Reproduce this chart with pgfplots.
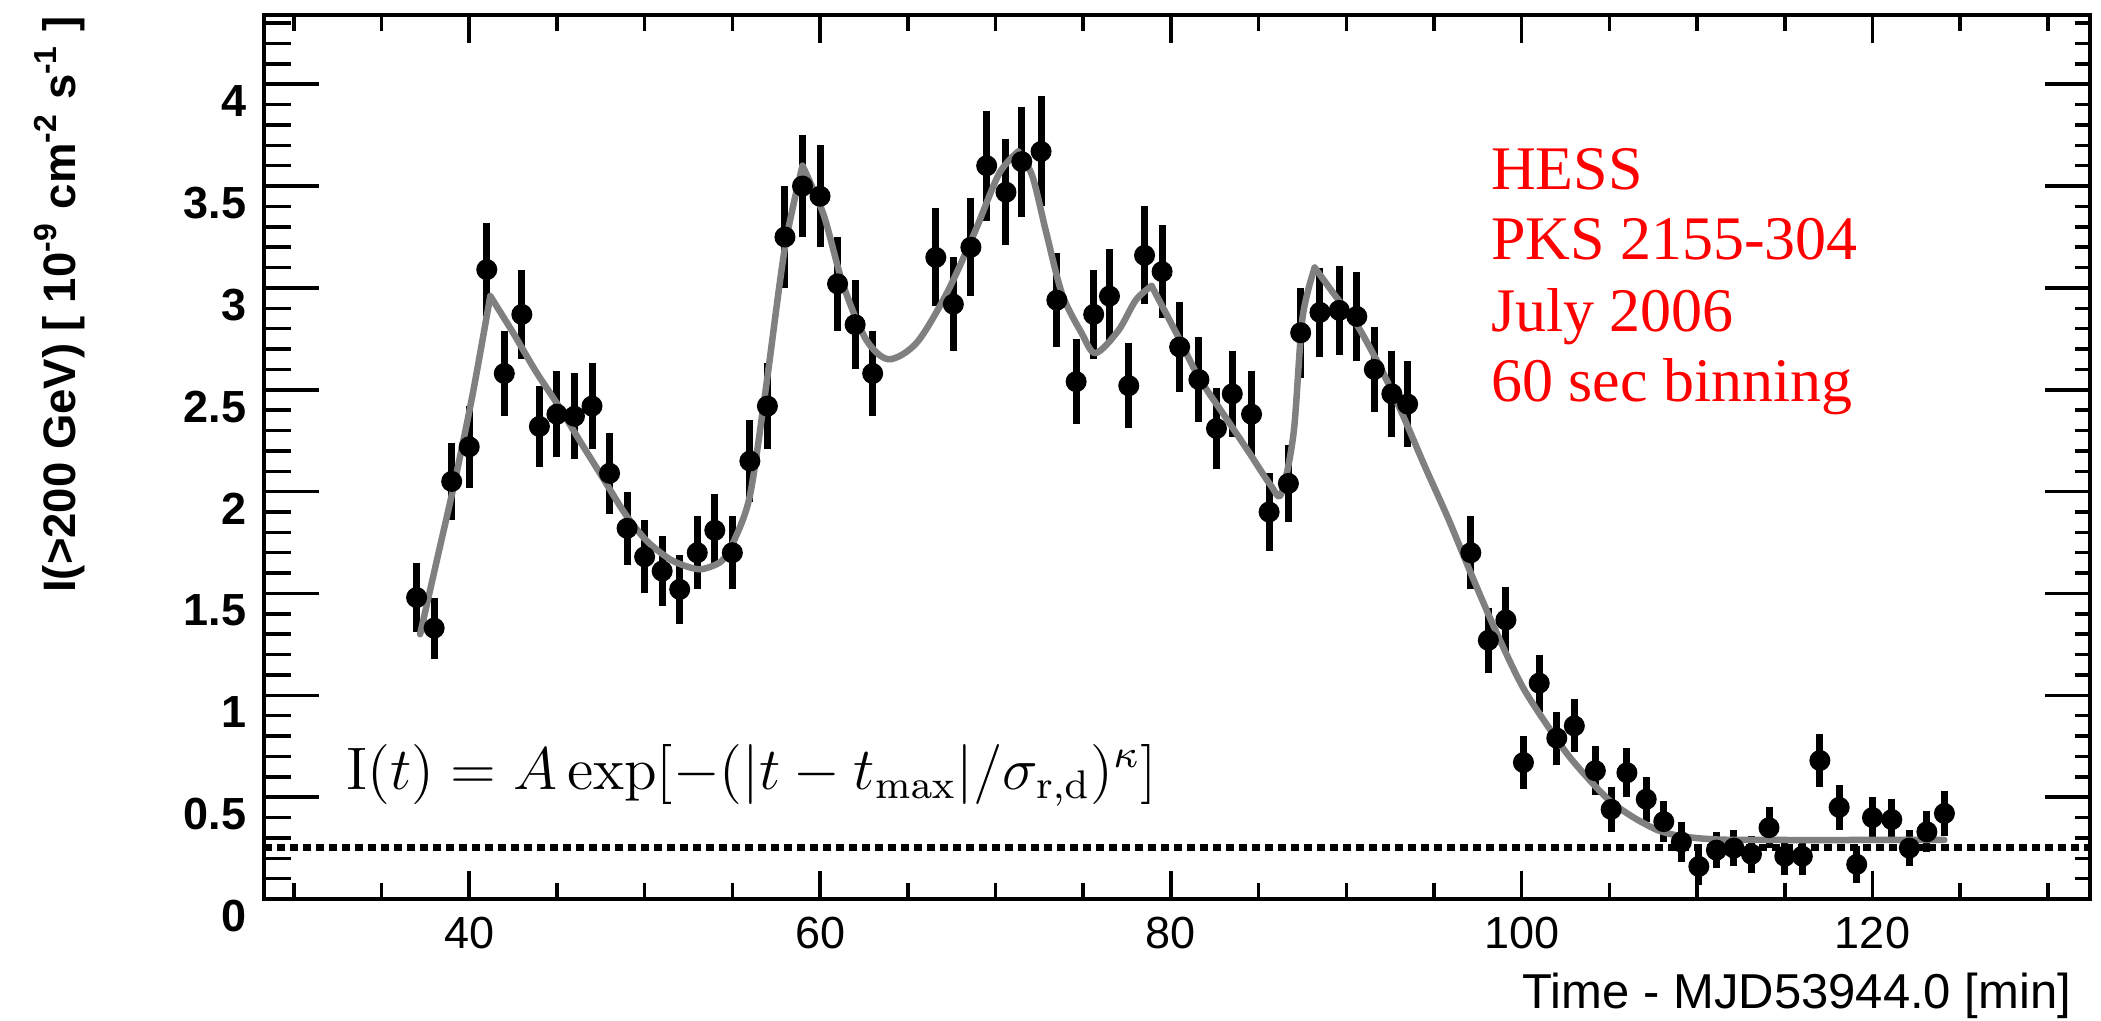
\documentclass[border=0pt]{standalone}
\usepackage{pgfplots}
\usepackage{pgfplotstable}
\pgfplotsset{compat=1.18}
\usepackage[no-math]{fontspec}
\setmainfont{Liberation Sans}
\newfontfamily\serif{Liberation Serif}
\definecolor{fitgray}{RGB}{128,128,128}
\definecolor{hessred}{RGB}{255,0,0}

% 60 s bins: time [min], flux, error
\pgfplotstableread{
t v e
37 1.48 0.17
38 1.33 0.15
39 2.05 0.19
40 2.22 0.20
41 3.09 0.23
42 2.58 0.21
43 2.87 0.22
44 2.32 0.20
45 2.38 0.21
46 2.37 0.21
47 2.42 0.21
48 2.09 0.20
49 1.82 0.18
50 1.68 0.18
51 1.61 0.17
52 1.52 0.17
53 1.70 0.18
54 1.81 0.18
55 1.70 0.18
56 2.15 0.20
57 2.42 0.21
58 3.25 0.25
59 3.50 0.25
60 3.45 0.25
61 3.02 0.23
62 2.82 0.22
63 2.58 0.21
66.6 3.15 0.24
67.6 2.92 0.23
68.6 3.20 0.24
69.5 3.60 0.27
70.6 3.47 0.26
71.5 3.62 0.27
72.6 3.67 0.27
73.5 2.94 0.23
74.6 2.54 0.21
75.6 2.87 0.22
76.5 2.96 0.23
77.6 2.52 0.21
78.5 3.16 0.24
79.5 3.08 0.23
80.5 2.71 0.22
81.6 2.55 0.21
82.6 2.31 0.20
83.5 2.48 0.21
84.6 2.38 0.21
85.6 1.90 0.19
86.7 2.04 0.19
87.4 2.78 0.22
88.5 2.88 0.22
89.6 2.89 0.22
90.6 2.86 0.22
91.6 2.60 0.21
92.6 2.48 0.21
93.5 2.43 0.21
97.1 1.70 0.18
98.1 1.27 0.16
99.1 1.37 0.16
100.1 0.67 0.13
101 1.06 0.14
102 0.79 0.13
103 0.85 0.13
104.2 0.63 0.12
105.1 0.44 0.11
106 0.62 0.12
107.1 0.49 0.11
108.1 0.38 0.10
109.1 0.28 0.10
110.1 0.16 0.09
111.1 0.24 0.09
112.1 0.25 0.09
113.1 0.22 0.09
114.1 0.35 0.10
115 0.21 0.09
116 0.21 0.09
117 0.68 0.13
118.1 0.45 0.11
119.1 0.17 0.09
120 0.40 0.10
121.1 0.39 0.10
122.1 0.25 0.09
123.1 0.33 0.10
124.1 0.42 0.11
}\fluxdata

\begin{document}
\begin{tikzpicture}
\pgfplotsset{
  frame/.style={
    at={(0,0)}, anchor=south west,
    scale only axis, width=365.2pt, height=176.8pt,
    xmin=28.3, xmax=132.4, ymin=0, ymax=4.34,
    axis line style={line width=0.8pt},
    tick align=inside,
    tick style={line width=0.7pt, black},
    /pgf/number format/assume math mode=true,
  },
}
% y ticks, left side (with labels)
\begin{axis}[frame,
  xtick=\empty,
  ytick={0,0.5,1,1.5,2,2.5,3,3.5,4},
  minor ytick={0.1,0.2,0.3,0.4,0.6,0.7,0.8,0.9,1.1,1.2,1.3,1.4,1.6,1.7,1.8,1.9,2.1,2.2,2.3,2.4,2.6,2.7,2.8,2.9,3.1,3.2,3.3,3.4,3.6,3.7,3.8,3.9,4.1,4.2,4.3},
  ytick pos=left,
  major tick length=11pt, minor tick length=5.4pt,
  yticklabel style={font=\bfseries\fontsize{9}{10}\selectfont, yshift=-3.4pt},
]
\end{axis}
% y ticks, right side
\begin{axis}[frame,
  xtick=\empty,
  ytick={0,0.5,1,1.5,2,2.5,3,3.5,4},
  minor ytick={0.1,0.2,0.3,0.4,0.6,0.7,0.8,0.9,1.1,1.2,1.3,1.4,1.6,1.7,1.8,1.9,2.1,2.2,2.3,2.4,2.6,2.7,2.8,2.9,3.1,3.2,3.3,3.4,3.6,3.7,3.8,3.9,4.1,4.2,4.3},
  ytick pos=right, yticklabels={},
  major tick length=9pt, minor tick length=3pt,
]
\end{axis}
% main axis: x ticks and data
\begin{axis}[frame, name=ax,
  xtick={40,60,80,100,120},
  minor xtick={30,35,45,50,55,65,70,75,85,90,95,105,110,115,125,130},
  ytick=\empty,
  major tick length=5.6pt, minor tick length=3.2pt,
  xticklabel style={font=\fontsize{9}{10}\selectfont},
]
% background level
\addplot[black, line width=1.4pt, dash pattern=on 1.6pt off 1.0pt] coordinates {(28.3,0.255) (132.4,0.255)};

% light curve
\addplot[only marks, mark=*, mark size=1.9pt, black,
  error bars/.cd, y dir=both, y explicit, error mark=none,
  error bar style={line width=1.4pt, black}]
  table[x=t, y=v, y error=e] {\fluxdata};

% fitted pulses, split at the peaks
\pgfplotsset{fitline/.style={fitgray, line width=1.3pt, smooth, tension=0.5, line cap=round, line join=round}}
\addplot[fitline] coordinates {(37.2,1.30) (38.2,1.68) (39.2,2.06) (40.2,2.48) (41.2,2.96)};
\addplot[fitline] coordinates {(41.2,2.96) (42.5,2.78) (43.8,2.59) (45.1,2.42) (46.3,2.25) (47.6,2.07) (48.9,1.89) (50.1,1.76) (51.4,1.67) (52.5,1.63) (53.3,1.62) (54.4,1.66) (55.1,1.76) (56.0,1.98) (56.9,2.50) (58.0,3.20) (59.0,3.60)};
\addplot[fitline] coordinates {(59.0,3.60) (60.2,3.36) (61.3,3.02) (62.6,2.75) (63.9,2.65) (65.5,2.73) (67.2,2.97) (68.8,3.27) (70.2,3.56) (71.3,3.67)};
\addplot[fitline] coordinates {(71.3,3.67) (72.1,3.55) (72.9,3.27) (73.8,2.97) (74.9,2.78) (75.7,2.68) (77.0,2.79) (78.0,2.94) (78.9,3.01)};
\addplot[fitline] coordinates {(78.9,3.01) (80.3,2.78) (81.6,2.56) (83.0,2.38) (84.4,2.20) (85.7,2.03) (86.3,1.99) (87.0,2.29) (87.5,2.85) (88.2,3.10)};
\addplot[fitline] coordinates {(88.2,3.10) (89.3,2.97) (90.6,2.82) (92.0,2.60) (93.2,2.38) (94.5,2.12) (95.8,1.87) (97.1,1.60) (98.5,1.32) (100.0,1.05) (101.4,0.86) (102.8,0.69) (104.8,0.50) (106.2,0.41) (107.7,0.34) (109.0,0.31) (110.6,0.295) (113.0,0.29) (124.1,0.29)};
\end{axis}

% titles
\node[rotate=90, anchor=base east, inner sep=0pt, font=\bfseries\fontsize{9.1}{11}\selectfont]
  at ([xshift=-37.6pt]ax.north west) {I(>200 GeV) [ 10\textsuperscript{-9} cm\textsuperscript{-2} s\textsuperscript{-1} ]};
\node[anchor=base east, inner sep=0pt, font=\fontsize{9.8}{11}\selectfont]
  at ([xshift=-3.6pt, yshift=-21.8pt]ax.south east) {Time - MJD53944.0 [min]};

% fit formula
\node[anchor=base west, inner sep=0pt, font=\fontsize{11.6}{14}\selectfont]
  at ([xshift=16.2pt, yshift=22pt]ax.south west)
  {$\mathrm{I}(t) = A\exp[-(|t-t_{\max}|/\sigma_{\mathrm{r,d}})^{\kappa}]$};

% source info
\begin{scope}[every node/.style={anchor=base west, inner sep=0pt, text=hessred, font=\serif\fontsize{12.4}{14}\selectfont}]
\node at ([xshift=245.2pt, yshift=-35pt]ax.north west) {HESS};
\node at ([xshift=245.2pt, yshift=-49pt]ax.north west) {PKS 2155-304};
\node at ([xshift=245.2pt, yshift=-63.4pt]ax.north west) {July 2006};
\node at ([xshift=245.2pt, yshift=-77.4pt]ax.north west) {60 sec binning};
\end{scope}

\pgfresetboundingbox
\path[use as bounding box] ([xshift=-52.8pt, yshift=-24.2pt]ax.south west) rectangle ([xshift=2.2pt, yshift=3pt]ax.north east);
\end{tikzpicture}
\end{document}
